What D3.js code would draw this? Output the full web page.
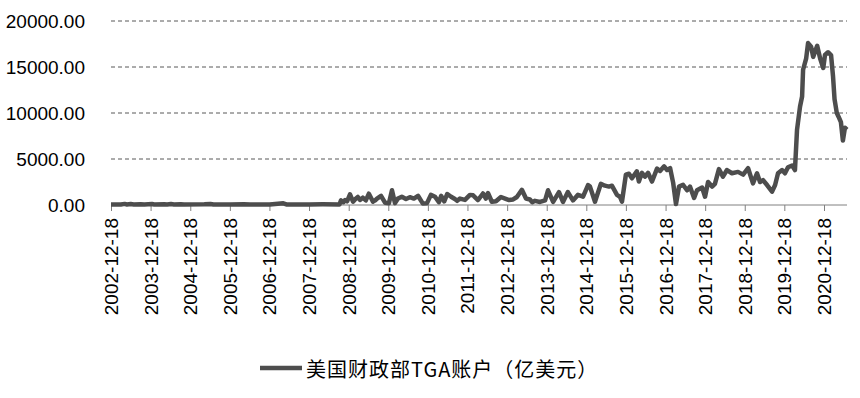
<!DOCTYPE html>
<html>
<head>
<meta charset="utf-8">
<script src="https://cdn.jsdelivr.net/npm/d3@7"></script>
<style>
  body { margin: 0; background: #fff; }
</style>
</head>
<body>
<script>
// TGA balance, readings (unit: 亿美元)
const dates = [
  "2002-12-18","2003-03-19","2003-04-23","2003-05-14","2003-06-18","2003-07-16","2003-09-17","2003-10-22",
  "2003-12-31","2004-01-21","2004-04-21","2004-05-19","2004-06-23","2004-07-21","2004-09-22","2004-10-20",
  "2005-04-27","2005-06-22","2005-07-20","2005-12-21","2006-04-26","2006-06-21","2006-12-20","2007-04-25",
  "2007-05-23","2007-12-19","2008-04-23","2008-09-24","2008-10-08","2008-10-29","2008-11-15","2008-12-03","2008-12-30","2009-01-27",
  "2009-02-18","2009-03-12","2009-04-01","2009-04-27","2009-05-25","2009-06-22","2009-07-30","2009-08-19","2009-09-05","2009-10-12","2009-11-18",
  "2009-12-24","2010-01-21","2010-02-18","2010-03-17","2010-04-22","2010-05-30","2010-07-05","2010-08-11",
  "2010-09-18","2010-11-02","2010-12-10","2011-01-15","2011-02-22","2011-03-30","2011-04-20","2011-05-18",
  "2011-06-15","2011-07-20","2011-08-24","2011-09-14","2011-10-10","2011-11-25","2012-01-10","2012-02-08","2012-03-24",
  "2012-05-09","2012-06-05","2012-06-24","2012-07-30","2012-09-06","2012-10-22","2012-11-29","2013-01-05",
  "2013-02-11","2013-03-18","2013-05-03","2013-06-10","2013-07-16","2013-08-07","2013-09-01","2013-10-17","2013-12-03",
  "2013-12-30","2014-02-15","2014-04-10","2014-05-17","2014-07-01","2014-08-17","2014-10-02","2014-11-18",
  "2015-01-03","2015-01-21","2015-03-08","2015-05-01","2015-06-08","2015-07-15","2015-08-11","2015-09-27",
  "2015-10-24","2015-11-12","2015-12-18","2016-01-15","2016-02-12","2016-03-28","2016-04-16","2016-05-14",
  "2016-06-11","2016-07-09","2016-08-15","2016-09-30","2016-10-28","2016-12-05","2017-01-01","2017-01-29",
  "2017-02-26","2017-03-24","2017-04-21","2017-05-28","2017-07-04","2017-07-31","2017-09-07","2017-10-04",
  "2017-11-20","2017-12-17","2018-01-14","2018-02-20","2018-03-18","2018-04-24","2018-05-31","2018-07-07",
  "2018-08-22","2018-10-17","2018-12-03","2019-01-18","2019-03-04","2019-04-10","2019-05-08","2019-06-05",
  "2019-07-12","2019-08-27","2019-09-24","2019-10-21","2019-11-27","2019-12-24","2020-01-21","2020-02-28",
  "2020-03-25","2020-04-13","2020-05-11","2020-05-30","2020-06-08","2020-07-06","2020-07-24","2020-08-21",
  "2020-09-09","2020-10-16","2020-11-13","2020-12-11","2020-12-27","2021-01-24","2021-02-21","2021-03-11",
  "2021-03-25","2021-04-15","2021-05-01","2021-05-23","2021-06-10","2021-06-29","2021-07-18"
];
const tga = [
  50,60,120,60,100,60,90,60,
  110,60,90,50,100,50,80,50,
  70,110,50,60,80,60,60,180,
  60,50,70,60,500,300,540,400,1160,360,
  650,870,550,800,500,1230,360,500,700,1000,250,
  200,1600,200,700,900,650,850,700,
  1000,150,200,1100,900,300,1000,400,
  1200,900,650,450,700,550,1100,1050,540,
  1250,700,1300,350,400,870,700,540,
  600,870,1650,700,600,300,450,330,500,
  1600,330,1400,330,1400,500,1100,900,
  2170,2000,360,2300,2100,2000,2100,1100,
  900,360,3300,3400,2900,3650,2550,3500,
  3080,3500,2550,3950,3700,4200,3800,4000,
  2400,100,2000,2200,1600,2000,760,1600,
  1900,900,2500,2000,2300,3900,3080,3800,
  3450,3600,3300,4000,2350,3450,2500,2700,
  2170,1450,2170,3450,3800,3450,4100,4300,
  3800,8150,10700,11800,14700,15900,17600,17200,
  16100,17300,15900,14900,16300,16600,16300,14000,
  11500,10000,9600,9000,7000,8400,8200
];
const yTicks = [0, 5000, 10000, 15000, 20000];
const xTickLabels = [
  "2002-12-18","2003-12-18","2004-12-18","2005-12-18","2006-12-18","2007-12-18",
  "2008-12-18","2009-12-18","2010-12-18","2011-12-18","2012-12-18","2013-12-18",
  "2014-12-18","2015-12-18","2016-12-18","2017-12-18","2018-12-18","2019-12-18","2020-12-18"
];
const seriesName = "美国财政部TGA账户（亿美元）";

const width = 860, height = 398;
const margin = {top: 21, right: 13, bottom: 193, left: 111};
const parse = d3.timeParse("%Y-%m-%d");
const data = dates.map((d, i) => ({date: parse(d), value: tga[i]}));

const svg = d3.select("body").append("svg")
  .attr("width", width).attr("height", height)
  .style("font-family", "'Liberation Sans', Arial, sans-serif");

const x = d3.scaleTime()
  .domain([parse("2002-12-18"), parse("2021-07-18")])
  .range([margin.left, width - margin.right]);
const y = d3.scaleLinear()
  .domain([0, 20000])
  .range([height - margin.bottom, margin.top]);

// dashed gridlines
svg.append("g").selectAll("line")
  .data(yTicks.filter(d => d > 0))
  .join("line")
  .attr("x1", margin.left).attr("x2", width - margin.right)
  .attr("y1", d => y(d)).attr("y2", d => y(d))
  .attr("stroke", "#595959").attr("stroke-width", 1)
  .attr("stroke-dasharray", "4,3");

// y labels
svg.append("g").selectAll("text")
  .data(yTicks)
  .join("text")
  .attr("x", 85).attr("y", d => y(d))
  .attr("text-anchor", "end").attr("dominant-baseline", "central")
  .attr("font-size", 19).attr("fill", "#000")
  .text(d => d3.format(".2f")(d));

// x axis
const xAxis = d3.axisBottom(x)
  .tickValues(xTickLabels.map(parse))
  .tickSize(6)
  .tickFormat(d3.timeFormat("%Y-%m-%d"));
const gx = svg.append("g")
  .attr("transform", `translate(0,${y(0)})`)
  .call(xAxis);
gx.select(".domain").attr("stroke", "#808080").attr("d", `M${margin.left},0H${width - margin.right}`);
gx.selectAll(".tick line").attr("stroke", "#808080");
gx.selectAll(".tick text")
  .attr("font-size", 19)
  .attr("font-family", "'Liberation Sans', Arial, sans-serif")
  .attr("fill", "#000")
  .attr("text-anchor", "end")
  .attr("dominant-baseline", "central")
  .attr("transform", "translate(0,13) rotate(-90)")
  .attr("x", 0).attr("y", 0).attr("dy", null);

// series line
const line = d3.line().x(d => x(d.date)).y(d => y(d.value));
svg.append("path")
  .datum(data)
  .attr("fill", "none")
  .attr("stroke", "#4d4d4d")
  .attr("stroke-width", 4.5)
  .attr("stroke-linejoin", "round")
  .attr("d", line);

// legend
const lg = svg.append("g").attr("transform", "translate(260,368)");
lg.append("line").attr("x1", 0).attr("x2", 42).attr("y1", 0).attr("y2", 0)
  .attr("stroke", "#4d4d4d").attr("stroke-width", 4.5);
lg.append("text").attr("x", 46).attr("y", 0)
  .attr("dominant-baseline", "central")
  .attr("font-family", "'Noto Sans CJK SC', sans-serif")
  .attr("font-size", 20).attr("letter-spacing", 1).attr("fill", "#000")
  .text(seriesName);
</script>
</body>
</html>
